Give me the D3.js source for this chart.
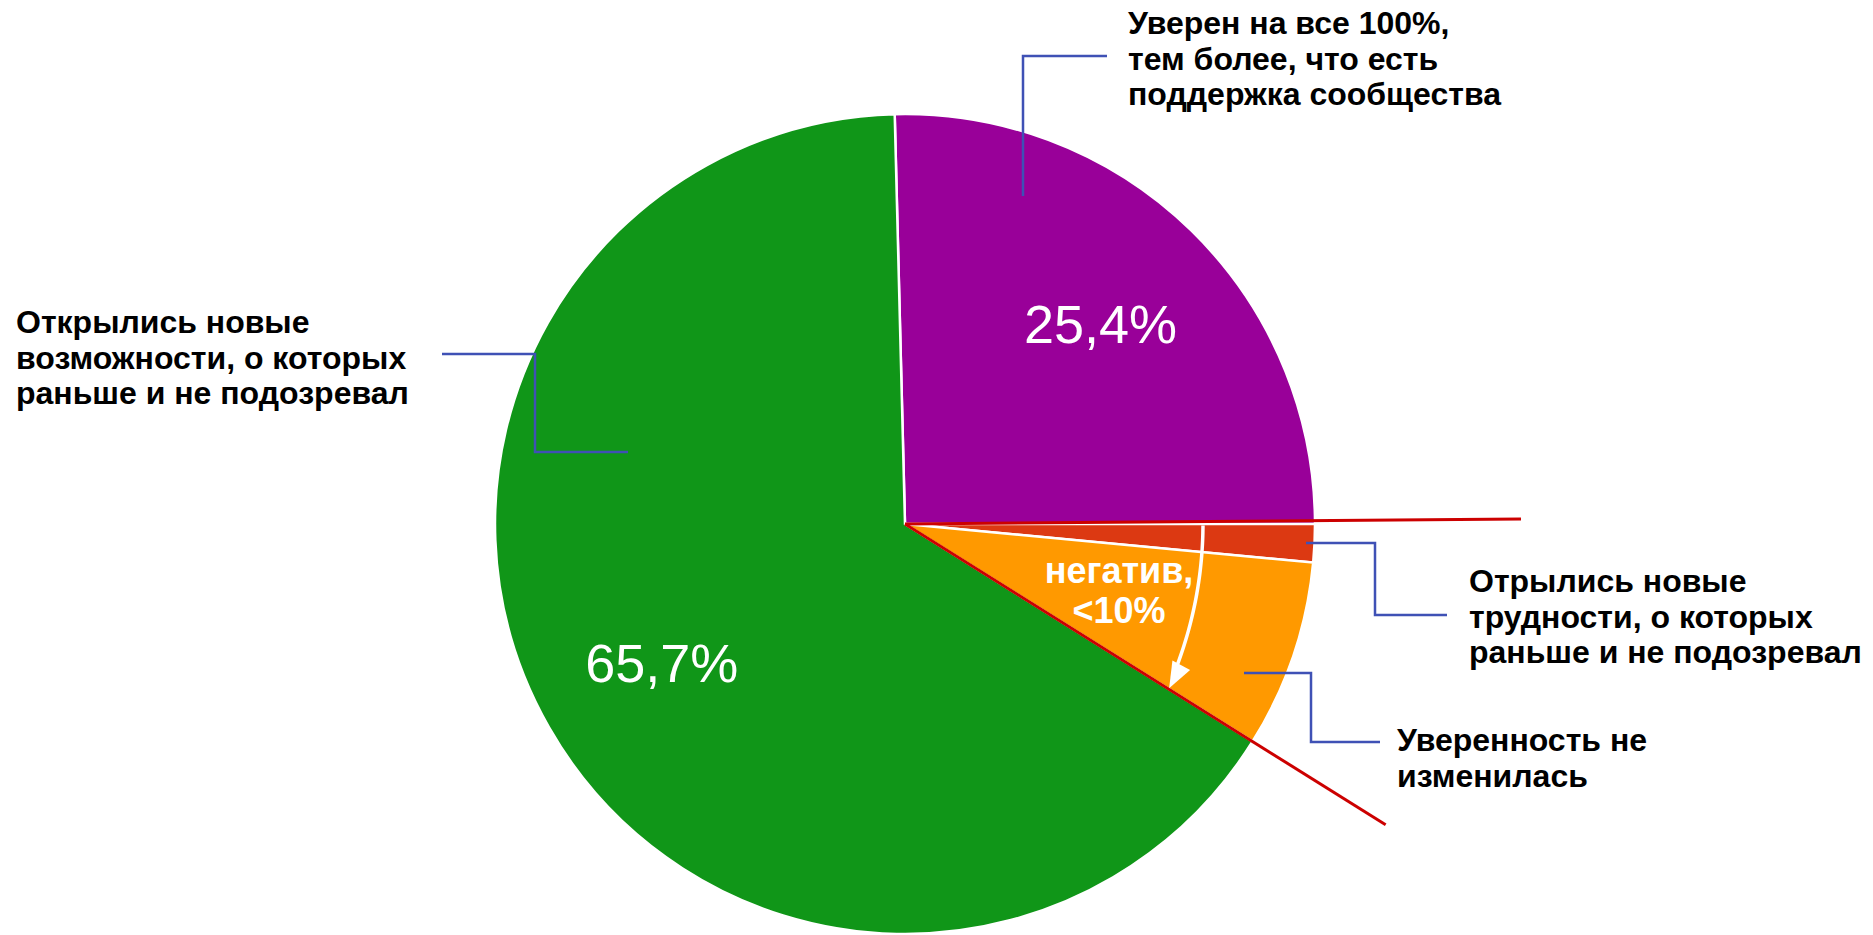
<!DOCTYPE html>
<html>
<head>
<meta charset="utf-8">
<script src="https://cdn.jsdelivr.net/npm/d3@7"></script>
<style>
  body { margin: 0; background: #fff; }
  svg { display: block; font-family: "Liberation Sans", Arial, sans-serif; }
</style>
</head>
<body>
<svg width="1873" height="935"></svg>
<script>
// данные диаграммы
var categories = [
  'Уверен на все 100%, тем более, что есть поддержка сообщества',
  'Отрылись новые трудности, о которых раньше и не подозревал',
  'Уверенность не изменилась',
  'Открылись новые возможности, о которых раньше и не подозревал'
]
var values = [25.4, 1.5, 7.4, 65.7]
var percentLabels = ['25,4%', '', '', '65,7%']
var colors = ['#990099', '#dc3912', '#ff9900', '#109618']
var labelLines = [
  ['Уверен на все 100%,', 'тем более, что есть', 'поддержка сообщества'],
  ['Отрылись новые', 'трудности, о которых', 'раньше и не подозревал'],
  ['Уверенность не', 'изменилась'],
  ['Открылись новые', 'возможности, о которых', 'раньше и не подозревал']
]
var noteLines = ['негатив,', '<10%']

var svg = d3.select('svg')
var cx = 905, cy = 524, R = 410

// первый сектор заканчивается ровно на "3 часах"
var start = Math.PI / 2 - values[0] / 100 * 2 * Math.PI

var pie = d3.pie().sort(null).value(function(d){ return d })
  .startAngle(start).endAngle(start + 2 * Math.PI)
var arcs = pie(values)

var arc = d3.arc().innerRadius(0).outerRadius(R)
var labelArc = d3.arc().innerRadius(280).outerRadius(280)

var g = svg.append('g').attr('transform', 'translate(' + cx + ',' + cy + ')')

g.selectAll('path.slice')
  .data(arcs)
  .enter()
  .append('path')
  .attr('class', 'slice')
  .attr('d', arc)
  .attr('fill', function(d, i){ return colors[i] })
  .attr('stroke', '#fff')
  .attr('stroke-width', 2.5)

g.selectAll('text.pct')
  .data(arcs)
  .enter()
  .append('text')
  .attr('class', 'pct')
  .attr('transform', function(d){ return 'translate(' + labelArc.centroid(d) + ')' })
  .attr('text-anchor', 'middle')
  .attr('dy', '0.36em')
  .attr('fill', '#fff')
  .attr('font-size', 54)
  .text(function(d, i){ return percentLabels[i] })

// красные линии, выделяющие "негатив"
function polar(a, r){ return [r * Math.sin(a), -r * Math.cos(a)] }
var redAngles = [[arcs[1].startAngle - 0.008, 616], [arcs[2].endAngle, 567]]
redAngles.forEach(function(p){
  var e = polar(p[0], p[1])
  g.append('line')
    .attr('x1', 0).attr('y1', 0)
    .attr('x2', e[0]).attr('y2', e[1])
    .attr('stroke', '#cc0000')
    .attr('stroke-width', 3)
})

// белая дуга со стрелкой (слегка расходящаяся спираль)
var a0 = arcs[1].startAngle + 0.005, a1 = arcs[2].endAngle - 0.045
var spiral = d3.range(0, 1.0001, 0.05).map(function(t){
  return polar(a0 + (a1 - a0) * t, 298 + 10 * t * t)
})
g.append('path')
  .attr('d', d3.line().curve(d3.curveBasis)(spiral))
  .attr('fill', 'none')
  .attr('stroke', '#fff')
  .attr('stroke-width', 3.5)

var tipA = arcs[2].endAngle - 0.003
var tip = polar(tipA, 311)
g.append('path')
  .attr('d', 'M0,0 L-26,-10 L-26,10 Z')
  .attr('transform', 'translate(' + tip + ') rotate(' + (tipA * 180 / Math.PI - 4) + ')')
  .attr('fill', '#fff')

svg.selectAll('text.note')
  .data(noteLines)
  .enter()
  .append('text')
  .attr('class', 'note')
  .attr('x', 1119)
  .attr('y', function(d, i){ return 583 + i * 40 })
  .attr('text-anchor', 'middle')
  .attr('fill', '#fff')
  .attr('font-size', 36)
  .attr('font-weight', 'bold')
  .text(function(d){ return d })

// подписи и выноски
var layout = [
  { x: 1128, y: 34, leader: [[1023, 196], [1023, 56], [1107, 56]] },
  { x: 1469, y: 592, leader: [[1306, 543], [1375, 543], [1375, 615], [1447, 615]] },
  { x: 1397, y: 751, leader: [[1244, 673], [1311, 673], [1311, 742], [1380, 742]] },
  { x: 16, y: 333, leader: [[628, 452], [535, 452], [535, 354], [442, 354]] }
]

var line = d3.line()
layout.forEach(function(L, i){
  svg.append('path')
    .attr('d', line(L.leader))
    .attr('fill', 'none')
    .attr('stroke', '#3f51b5')
    .attr('stroke-width', 2.5)

  svg.append('g')
    .selectAll('text')
    .data(labelLines[i])
    .enter()
    .append('text')
    .attr('x', L.x)
    .attr('y', function(d, j){ return L.y + j * 35.5 })
    .attr('font-size', 32)
    .attr('font-weight', 'bold')
    .attr('fill', '#000')
    .text(function(d){ return d })
})
</script>
</body>
</html>
